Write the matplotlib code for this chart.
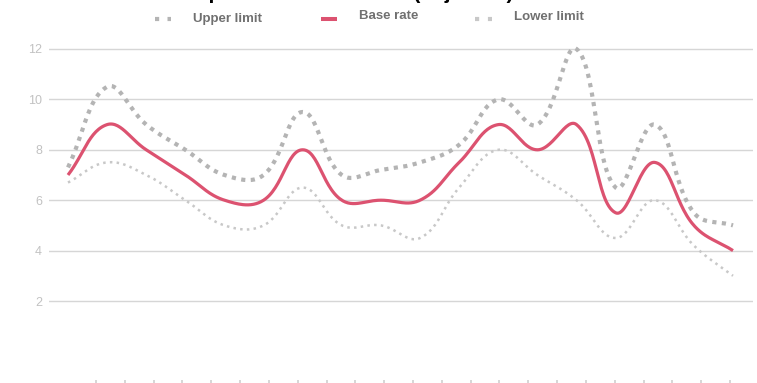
import numpy as np
import matplotlib.pyplot as plt
from matplotlib.lines import Line2D

plt.rcParams['font.family'] = ['Liberation Sans', 'DejaVu Sans']

# yearly series, one value per slot on the x axis
upper_limit = [7.3, 10.5, 9.0, 8.0, 7.0, 7.0, 9.5, 7.0, 7.2, 7.5, 8.2, 10.0, 9.0, 12.0, 6.5, 9.0, 5.5, 5.0]
base_rate   = [7.0, 9.0, 8.0, 7.0, 6.0, 6.0, 8.0, 6.0, 6.0, 6.0, 7.5, 9.0, 8.0, 9.0, 5.5, 7.5, 5.0, 4.0]
lower_limit = [6.7, 7.5, 7.0, 6.0, 5.0, 5.0, 6.5, 5.0, 5.0, 4.5, 6.5, 8.0, 7.0, 6.0, 4.5, 6.0, 4.2, 3.0]
y_ticks = [2, 4, 6, 8, 10, 12]
n_slots = 23          # unlabeled category ticks along the bottom

W, H = 757, 383
PX_X, PX_Y = 39.12, 25.2   # pixels per x step / per y unit


def smooth(values, tension=0.4, steps=30):
    """Cardinal bezier through the points, control points built in pixel space."""
    n = len(values)
    px = np.arange(n) * PX_X
    py = np.asarray(values, float) * PX_Y
    cin = np.zeros((n, 2))
    cout = np.zeros((n, 2))
    for i in range(n):
        a, b = max(i - 1, 0), min(i + 1, n - 1)
        d01 = np.hypot(px[i] - px[a], py[i] - py[a])
        d12 = np.hypot(px[b] - px[i], py[b] - py[i])
        s = d01 + d12
        fa = tension * (d01 / s if s else 0)
        fb = tension * (d12 / s if s else 0)
        dx, dy = px[b] - px[a], py[b] - py[a]
        cin[i] = px[i] - fa * dx, py[i] - fa * dy
        cout[i] = px[i] + fb * dx, py[i] + fb * dy
    t = np.linspace(0, 1, steps)[:, None]
    pts = []
    for i in range(n - 1):
        p0 = np.array([px[i], py[i]])
        p1 = np.array([px[i + 1], py[i + 1]])
        seg = ((1 - t) ** 3) * p0 + 3 * ((1 - t) ** 2) * t * cout[i] \
            + 3 * (1 - t) * t ** 2 * cin[i + 1] + t ** 3 * p1
        pts.append(seg if i == 0 else seg[1:])
    pts = np.vstack(pts)
    return pts[:, 0] / PX_X, pts[:, 1] / PX_Y


fig = plt.figure(figsize=(W / 100, H / 100), dpi=100)
left, right, top, bottom = 49, 753, 45, 380
ax = fig.add_axes([left / W, 1 - bottom / H, (right - left) / W, (bottom - top) / H])

RED = '#dc5270'
GREY_UP = '#b4b4b4'
GREY_LO = '#c8c8c8'

x, y = smooth(lower_limit)
ax.plot(x, y, color=GREY_LO, lw=1.8, dashes=(1, 1.7), dash_capstyle='butt', zorder=3)
x, y = smooth(upper_limit)
ax.plot(x, y, color=GREY_UP, lw=3.0, dashes=(1, 1.3), dash_capstyle='butt', zorder=3)
x, y = smooth(base_rate)
ax.plot(x, y, color=RED, lw=2.3, solid_capstyle='butt', zorder=4)

ax.set_xlim(-19 / PX_X, len(base_rate) - 1 + 20 / PX_X)
ax.set_ylim(12 - (bottom - 49) / PX_Y, 12 + (49 - top) / PX_Y)
ax.set_xticks([])
ax.set_yticks(y_ticks)
ax.tick_params(axis='y', length=0, pad=5, labelsize=9, labelcolor='#c2c2c2')
ax.yaxis.grid(True, color='#d6d6d6', lw=1.0)
ax.set_axisbelow(True)
for s in ax.spines.values():
    s.set_visible(False)

# bottom category ticks
ax2 = ax.twiny()
step = (730 - 96) / (n_slots - 1)
ax2.set_xlim((left - 96) / step, (right - 96) / step)
ax2.set_xticks(range(n_slots))
ax2.xaxis.set_ticks_position('bottom')
ax2.tick_params(axis='x', length=2.5, width=1.2, color='#cfcfcf',
                labelbottom=False, labeltop=False)
for s in ax2.spines.values():
    s.set_visible(False)


def fx(p):
    return p / W


def fy(p):
    return 1 - p / H


# legend, drawn by hand
fig.add_artist(Line2D([fx(155), fx(171)], [fy(19), fy(19)], color=GREY_UP, lw=3.0,
                      dashes=(1, 2), dash_capstyle='butt'))
fig.add_artist(Line2D([fx(321), fx(337)], [fy(18.5), fy(18.5)], color=RED, lw=2.9,
                      solid_capstyle='butt'))
fig.add_artist(Line2D([fx(475), fx(492)], [fy(19), fy(19)], color=GREY_LO, lw=3.0,
                      dashes=(1, 2.1), dash_capstyle='butt'))
legend_style = dict(fontsize=9.5, fontweight='bold', color='#707070', va='baseline', ha='left')
fig.text(fx(193), fy(22.3), 'Upper limit', **legend_style)
fig.text(fx(359), fy(19.3), 'Base rate', **legend_style)
fig.text(fx(514), fy(19.5), 'Lower limit', **legend_style)

fig.text(fx(162), fy(-1), 'Comparison of base rate (adjusted)', fontsize=15,
         fontweight='bold', color='black', ha='left', va='baseline')

fig.savefig('out.png', dpi=100)
